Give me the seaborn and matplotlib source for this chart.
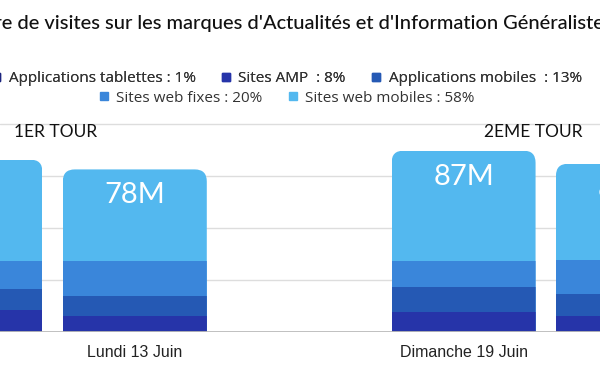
import matplotlib
matplotlib.use("Agg")
import matplotlib.pyplot as plt
from matplotlib.lines import Line2D
from matplotlib.patches import FancyBboxPatch
import seaborn as sns
import pandas as pd

# chart data (millions of visits)
jours = ["Dimanche 12 Juin", "Lundi 13 Juin", " ", "Dimanche 19 Juin", "Lundi 20 Juin"]
jours_data = ["Dimanche 12 Juin", "Lundi 13 Juin", "Dimanche 19 Juin", "Lundi 20 Juin"]
tablettes = [0.8, 0.8, 0.8, 0.8]
amp = [9.8, 7.1, 9.0, 7.0]
mobiles_app = [10.3, 9.7, 11.9, 10.5]
web_fixes = [13.1, 16.8, 12.4, 16.2]
web_mobiles = [48.8, 43.7, 53.0, 46.3]

segments = ["Applications tablettes", "Sites AMP", "Applications mobiles",
            "Sites web fixes", "Sites web mobiles"]
legend_labels = ["Applications tablettes : 1%", "Sites AMP  : 8%", "Applications mobiles  : 13%",
                 "Sites web fixes : 20%", "Sites web mobiles : 58%"]
couleurs = ["#1c247f", "#2634a9", "#2559b4", "#3a86da", "#53b8ef"]
tours = ["1ER TOUR", "2EME TOUR"]
titre = "Nombre de visites sur les marques d'Actualités et d'Information Généralistes"

# long table with cumulative tops, one row per day and segment
valeurs = [tablettes, amp, mobiles_app, web_fixes, web_mobiles]
rows = []
for i, jour in enumerate(jours_data):
    cumul = 0
    for seg, vals in zip(segments, valeurs):
        cumul += vals[i]
        rows.append({"jour": jour, "segment": seg, "cumul": cumul})
df = pd.DataFrame(rows)
totaux = df.groupby("jour", sort=False)["cumul"].max()

sns.set_style("white")
fig = plt.figure(figsize=(6, 3.72), dpi=100)
ax = fig.add_axes([0, 39.7 / 372, 1, 209.4 / 372])

sns.barplot(data=df, x="jour", y="cumul", hue="segment", order=jours,
            hue_order=segments[::-1], palette=dict(zip(segments, couleurs)),
            dodge=False, width=0.876, errorbar=None, legend=False,
            saturation=1, linewidth=0, ax=ax)

ax.set_xlim(0.18, 3.83)
ax.set_ylim(0, 100.4)
ax.set_yticks([25, 50, 75, 100])
ax.set_yticklabels([])
ax.yaxis.grid(True, color="#dddddd", lw=1)
ax.set_axisbelow(True)
for s in ax.spines.values():
    s.set_visible(False)
ax.axhline(0, color="#bbbbbb", lw=1.3, zorder=5)
ax.set_xlabel("")
ax.set_ylabel("")
ax.tick_params(axis="x", length=0, pad=9)
for lab in ax.get_xticklabels():
    lab.set_fontfamily("Liberation Sans")
    lab.set_fontsize(11.5)
    lab.set_color("#222222")

# rounded top corners: clip every segment with a rounded box per bar
px_x = ax.transData.transform((1, 0))[0] - ax.transData.transform((0, 0))[0]
px_y = ax.transData.transform((0, 1))[1] - ax.transData.transform((0, 0))[1]
rayon = 12 / px_x
aspect = px_x / px_y
boites = {}
for p in ax.patches:
    p.set_linewidth(0)
    idx = int(round(p.get_x() + p.get_width() / 2))
    if idx not in boites:
        haut = totaux[jours[idx]]
        boites[idx] = FancyBboxPatch((p.get_x(), -10), p.get_width(), haut + 10,
                                     boxstyle=f"round,pad=0,rounding_size={rayon}",
                                     mutation_aspect=aspect, transform=ax.transData)
    p.set_clip_path(boites[idx])

# totals inside the bars
for jour, total in totaux.items():
    ax.text(jours.index(jour), total - 12.4, f"{round(total)}M", ha="center", va="center",
            color="white", fontsize=21, fontfamily="Lato")

ax.text(0.521, 96.1, tours[0], ha="center", va="center", fontsize=12.5, fontfamily="Lato", color="#111111")
ax.text(3.423, 96.1, tours[1], ha="center", va="center", fontsize=12.5, fontfamily="Lato", color="#111111")

# legend: two centred lines
handles = [Line2D([], [], marker="s", linestyle="", color=c, markersize=6) for c in couleurs]
leg1 = fig.legend(handles[:3], legend_labels[:3], loc="center", bbox_to_anchor=(0.478, 1 - 79 / 372),
                  ncol=3, frameon=False, handlelength=0.6, handletextpad=0.5, columnspacing=1.7,
                  borderpad=0, prop={"family": "Open Sans", "size": 11})
fig.add_artist(leg1)
leg2 = fig.legend(handles[3:], legend_labels[3:], loc="center", bbox_to_anchor=(0.478, 1 - 98 / 372),
                  ncol=2, frameon=False, handlelength=0.6, handletextpad=0.5, columnspacing=1.7,
                  borderpad=0, prop={"family": "Open Sans", "size": 11})
for leg in (leg1, leg2):
    for t in leg.get_texts():
        t.set_color("#333333")

# title is wider than the picture: fit the visible part, then shift so "Nombr" falls off the left
renderer = fig.canvas.get_renderer()
essai = fig.text(0, 0, "e de visites sur les marques d'Actualités et d'Information Généralist",
                 fontsize=14, fontfamily="Lato", fontweight="medium")
taille = 14 * 592 / essai.get_window_extent(renderer).width
essai.remove()
debut = fig.text(0, 0, "Nombr", fontsize=taille, fontfamily="Lato", fontweight="medium")
decalage = debut.get_window_extent(renderer).width
debut.remove()
fig.text((2 - decalage) / 600, 1 - 28.5 / 372, titre, ha="left", va="baseline",
         fontsize=taille, fontfamily="Lato", fontweight="medium", color="#111111")

fig.savefig("out.png", dpi=100)
